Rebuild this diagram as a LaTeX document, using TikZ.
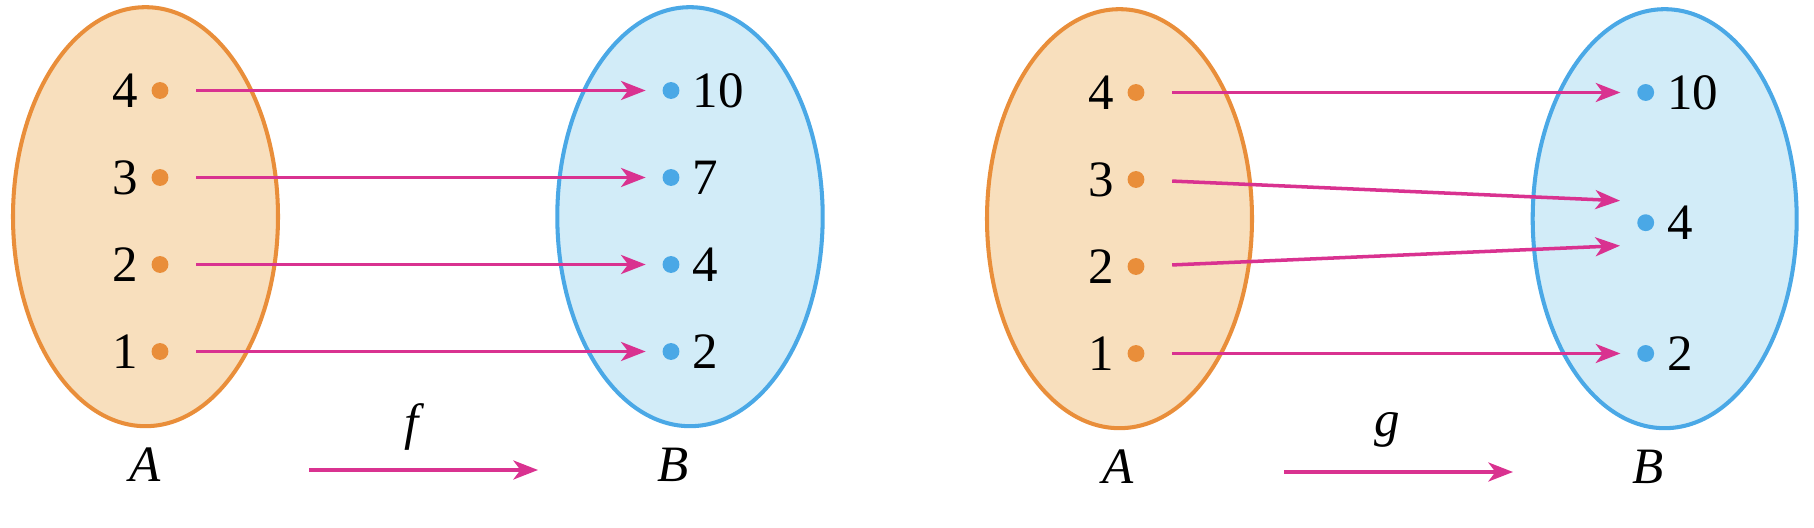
\documentclass[tikz,border=0pt]{standalone}
\usepackage{fontspec}
\setmainfont{Liberation Serif}
\usepackage{xcolor}
\usepackage{tikz}
\usetikzlibrary{arrows.meta,calc,positioning}
\definecolor{setAfill}{HTML}{F8DFBD}
\definecolor{setAline}{HTML}{E98E3A}
\definecolor{setBfill}{HTML}{D2ECF8}
\definecolor{setBline}{HTML}{4AA8E6}
\definecolor{mapline}{HTML}{D93290}

\begin{document}
\begin{tikzpicture}[x=0.01cm,y=-0.01cm,>={Stealth[length=7pt,width=5.4pt,inset=2pt]},
  every node/.style={font=\fontsize{14.5}{16}\selectfont},
  adot/.style={circle,fill=setAline,inner sep=0pt,minimum size=4.8pt},
  bdot/.style={circle,fill=setBline,inner sep=0pt,minimum size=4.8pt},
  maparrow/.style={->,mapline,line width=1pt,shorten <=7.7pt},
  setA/.style={setAline,fill=setAfill,line width=1.15pt},
  setB/.style={setBline,fill=setBfill,line width=1.15pt}]
\useasboundingbox (0,0) rectangle (1814,528);
% f : A -> B, one to one
\draw[setA] (145.5,216.7) ellipse [x radius=132.5,y radius=209.5];
\draw[setB] (690,216.7) ellipse [x radius=132.7,y radius=209.5];
\foreach \n [count=\i] in {1,2,3,4}
  \node[adot,label={[label distance=0pt]left:\n}] (fa\n) at (160,{351.5-87*(\i-1)}) {};
\foreach \n [count=\i] in {2,4,7,10}
  \node[bdot,label={[label distance=0pt]right:\n}] (fb\n) at (671,{351.5-87*(\i-1)}) {};
\foreach \a/\b in {1/2,2/4,3/7,4/10}
  \draw[maparrow,shorten >=4.6pt] (fa\a) -- (fb\b);
\node (fsetA) at (145,465) {\textit{A}};
\node (fsetB) at (673,465) {\textit{B}};
\coordinate (fs) at (309,470);
\coordinate (fe) at (538,470);
\draw[maparrow,shorten <=0pt] (fs) -- (fe);
\node (flab) at (415,427) {\textit{f}};
% g : A -> B, 2 and 3 share an image
\begin{scope}[shift={(974,2)}]
  \draw[setA] (145.5,216.7) ellipse [x radius=132.5,y radius=209.5];
  \draw[setB] (690.7,216.7) ellipse [x radius=132,y radius=209.5];
  \foreach \n [count=\i] in {1,2,3,4}
    \node[adot,label={[label distance=0pt]left:\n}] (ga\n) at (162,{351.5-87*(\i-1)}) {};
  \node[bdot,label={[label distance=0pt]right:2}] (gb2) at (671.7,351.5) {};
  \node[bdot,label={[label distance=0pt]right:4}] (gb4) at (671.7,220.7) {};
  \node[bdot,label={[label distance=0pt]right:10}] (gb10) at (671.7,90.5) {};
  \coordinate (gt3) at (646,198.7);
  \coordinate (gt2) at (646,243.7);
  \draw[maparrow,shorten >=4.6pt] (ga4) -- (gb10);
  \draw[maparrow] (ga3) -- (gt3);
  \draw[maparrow] (ga2) -- (gt2);
  \draw[maparrow,shorten >=4.6pt] (ga1) -- (gb2);
  \node (gsetA) at (144,465) {\textit{A}};
  \node (gsetB) at (674,465) {\textit{B}};
  \coordinate (gs) at (310,470);
  \coordinate (ge) at (539,470);
  \draw[maparrow,shorten <=0pt] (gs) -- (ge);
  \node (glab) at (413,428) {\textit{g}};
\end{scope}
\end{tikzpicture}
\end{document}
